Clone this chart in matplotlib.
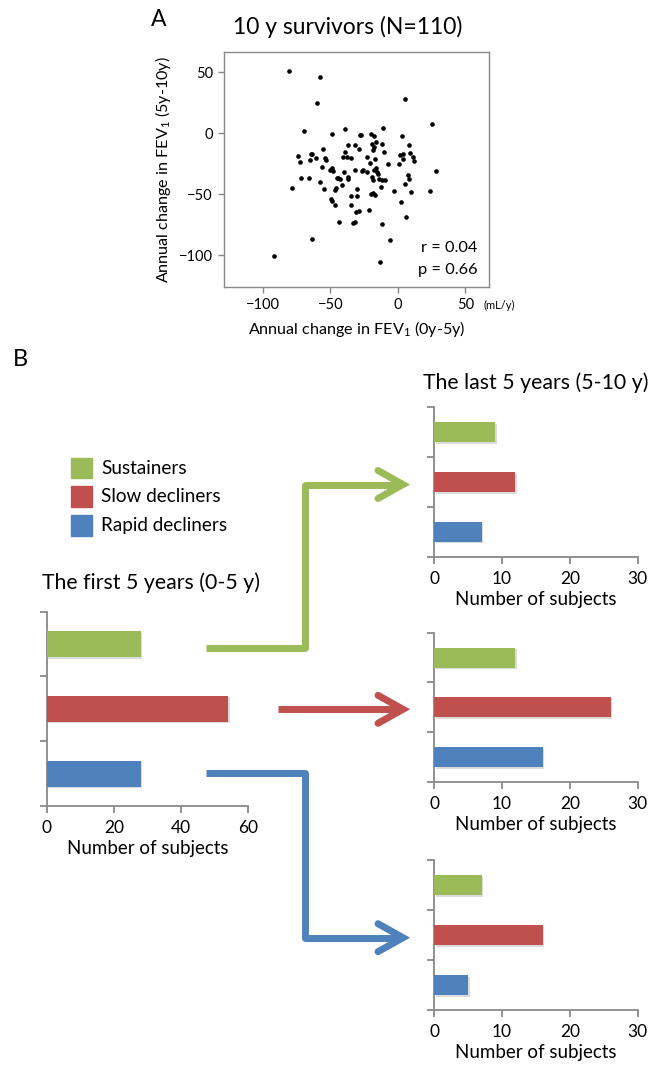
import matplotlib
matplotlib.use('Agg')
import matplotlib.pyplot as plt
from matplotlib.patches import Rectangle
import matplotlib.patheffects as pe

plt.rcParams['font.family'] = ['Lato', 'DejaVu Sans']
plt.rcParams['mathtext.fontset'] = 'custom'
plt.rcParams['mathtext.rm'] = 'Lato'
plt.rcParams['mathtext.it'] = 'Lato:italic'
plt.rcParams['mathtext.bf'] = 'Lato:bold'

# ---------------- data ----------------
fev_change_0_5 = [
    -80.2, -57.3, -59.8, 5.7, 25.2, -69.4, -48.9, -39.3, -28.1, -27.2,
    -19.5, -17.3, -10.9, 3.0, -73.8, -72.3, -71.6, -78.0, -65.4, -64.2,
    -64.9, -63.2, -60.7, -55.6, -53.8, -53.3, -56.0, -57.5, -54.8, -50.4,
    -48.9, -47.7, -49.4, -48.9, -46.2, -46.7, -45.7, -44.9, -44.0, -41.2,
    -43.2, -40.7, -38.8, -36.8, -37.8, -34.3, -39.8, -36.5, -36.8, -31.9,
    -28.4, -31.6, -34.3, -29.9, -30.1, -34.3, -30.9, -28.9, -33.3, -31.6,
    -21.5, -25.9, -22.7, -20.7, -23.0, -19.0, -18.5, -16.8, -16.3, -15.1,
    -18.0, -17.8, -19.3, -15.8, -11.4, -10.1, -13.6, -11.6, -9.1, -12.1,
    -19.5, -16.8, -18.0, -11.9, -13.3, -5.4, -6.9, -2.5, 0.7, 2.5,
    4.0, 4.2, 8.4, 9.1, 11.1, 12.3, 7.4, 8.4, 5.2, 10.1,
    6.4, 23.9, 28.6, -91.9, -63.2, -17.3, -14.4, 1.7, -26.2, -42.7,
]
fev_change_5_10 = [
    50.9, 46.5, 24.6, 28.5, 7.9, 1.6, -0.8, 3.8, -1.6, -1.6,
    -0.5, -1.9, 4.1, -2.2, -18.3, -23.5, -36.7, -44.9, -36.9, -17.2,
    -21.9, -17.2, -20.5, -12.9, -20.5, -22.2, -27.9, -40.2, -45.4, -30.1,
    -28.5, -31.2, -54.2, -55.6, -58.6, -46.5, -44.6, -36.9, -36.4, -42.7,
    -73.1, -19.4, -15.1, -9.9, -19.7, -20.0, -31.5, -35.6, -37.2, -9.9,
    -12.9, -30.4, -51.2, -46.0, -51.7, -58.8, -64.6, -63.8, -73.3, -72.8,
    -62.7, -30.4, -19.7, -24.6, -31.7, -36.1, -38.3, -21.3, -28.5, -32.0,
    -14.0, -11.5, -8.8, -6.8, -9.0, -15.6, -37.5, -38.6, -38.3, -43.8,
    -49.5, -50.9, -48.7, -74.7, -105.6, -87.3, -25.5, -47.3, -25.2, -56.1,
    -20.8, -17.0, -9.9, -16.4, -19.4, -23.0, -33.9, -37.2, -41.6, -48.2,
    -69.0, -47.1, -30.7, -100.4, -86.5, -29.8, -33.0, -17.5, -30.7, -37.8,
]
scatter_ticks = [-100, -50, 0, 50]
r_text = "r = 0.04"
p_text = "p = 0.66"

categories = ["Sustainers", "Slow decliners", "Rapid decliners"]
cat_colors = ["#9BBB59", "#C0504D", "#4F81BD"]
first_5y = [28, 54, 28]
last_5y_from_sustainers = [9, 12, 7]
last_5y_from_slow = [12, 26, 16]
last_5y_from_rapid = [7, 16, 5]
first_ticks = [0, 20, 40, 60]
last_ticks = [0, 10, 20, 30]

# ---------------- figure ----------------
W, H = 650, 1065
fig = plt.figure(figsize=(W / 100, H / 100), dpi=100)
GRAY = "#898989"


def px_axes(l, t, r, b):
    return fig.add_axes([l / W, 1 - b / H, (r - l) / W, (b - t) / H])


# Panel A scatter
ax = px_axes(224, 51.7, 489, 287.3)
ax.scatter(fev_change_0_5, fev_change_5_10, s=11, c="black", linewidths=0, zorder=3)
ax.set_xlim(-128.7, 67.6)
ax.set_ylim(-126.4, 67)
ax.set_xticks(scatter_ticks)
ax.set_yticks(scatter_ticks)
for s in ax.spines.values():
    s.set_color(GRAY)
    s.set_linewidth(1.0)
ax.tick_params(direction="out", length=4, width=1, color=GRAY, labelsize=10.5, pad=4)
ax.set_xlabel("Annual change in FEV$_1$ (0y-5y)", fontsize=11.6, labelpad=5)
ax.set_ylabel("Annual change in FEV$_1$ (5y-10y)", fontsize=11.6, labelpad=4)
ax.text(0.958, 0.167, r_text, transform=ax.transAxes, ha="right", va="center", fontsize=11.8)
ax.text(0.958, 0.073, p_text, transform=ax.transAxes, ha="right", va="center", fontsize=11.8)

shadow = [pe.SimplePatchShadow(offset=(1.2, -1.2), shadow_rgbFace="#888888", alpha=0.3), pe.Normal()]


def bar_panel(box, counts, xmax, ticks):
    a = px_axes(*box)
    ypos = list(range(len(counts)))[::-1]
    a.barh(ypos, counts, height=0.4, color=cat_colors, path_effects=shadow, zorder=3)
    a.set_xlim(0, xmax)
    a.set_ylim(-0.5, len(counts) - 0.5)
    a.set_xticks(ticks)
    a.set_yticks([i - 0.5 for i in range(len(counts) + 1)])
    a.set_yticklabels([])
    for side in ("top", "right"):
        a.spines[side].set_visible(False)
    for side in ("left", "bottom"):
        a.spines[side].set_color(GRAY)
        a.spines[side].set_linewidth(1.3)
    a.tick_params(direction="out", length=5, width=1.3, color=GRAY, labelsize=12.5, pad=5)
    a.set_xlabel("Number of subjects", fontsize=13.5, labelpad=3)
    return a


bar_panel((46.7, 611.5, 248, 806), first_5y, 60, first_ticks)
bar_panel((434, 407.3, 637.7, 556.7), last_5y_from_sustainers, 30, last_ticks)
bar_panel((434, 632.7, 637.7, 782), last_5y_from_slow, 30, last_ticks)
bar_panel((434, 860, 637.7, 1010), last_5y_from_rapid, 30, last_ticks)

# overlay in pixel coordinates for annotations
ov = fig.add_axes([0, 0, 1, 1])
ov.set_xlim(0, W)
ov.set_ylim(H, 0)
ov.axis("off")
ov.patch.set_alpha(0)

ov.text(159, 20, "A", fontsize=16.5, ha="center", va="center")
ov.text(348, 27, "10 y survivors (N=110)", fontsize=16.5, ha="center", va="center")
ov.text(484, 305, "(mL/y)", fontsize=8, ha="left", va="center")
ov.text(20, 359, "B", fontsize=17, ha="center", va="center")
ov.text(151.5, 583, "The first 5 years (0-5 y)", fontsize=15.3, ha="center", va="center")
ov.text(536, 383, "The last 5 years (5-10 y)", fontsize=15.3, ha="center", va="center")

# legend
for i, (lab, col) in enumerate(zip(categories, cat_colors)):
    yc = 468 + i * 28.7
    ov.add_patch(Rectangle((71, yc - 10.3), 20.5, 20.6, color=col))
    ov.text(101, yc, lab, fontsize=13.6, ha="left", va="center")

LW = 5


def arrow_path(xs, ys, col):
    ov.plot(xs[:-1] + [xs[-1] - 4], ys, color=col, lw=LW, solid_joinstyle="round", solid_capstyle="butt")
    tx, ty = xs[-1], ys[-1]
    ov.plot([tx - 25, tx, tx - 25], [ty - 14, ty, ty + 14], color=col, lw=LW,
            solid_joinstyle="miter", solid_capstyle="round")


arrow_path([206, 305, 305, 403], [648, 648, 484.5, 484.5], cat_colors[0])
arrow_path([278, 403], [709.3, 709.3], cat_colors[1])
arrow_path([206, 305, 305, 403], [773, 773, 937.7, 937.7], cat_colors[2])

fig.savefig("out.png", dpi=100)
